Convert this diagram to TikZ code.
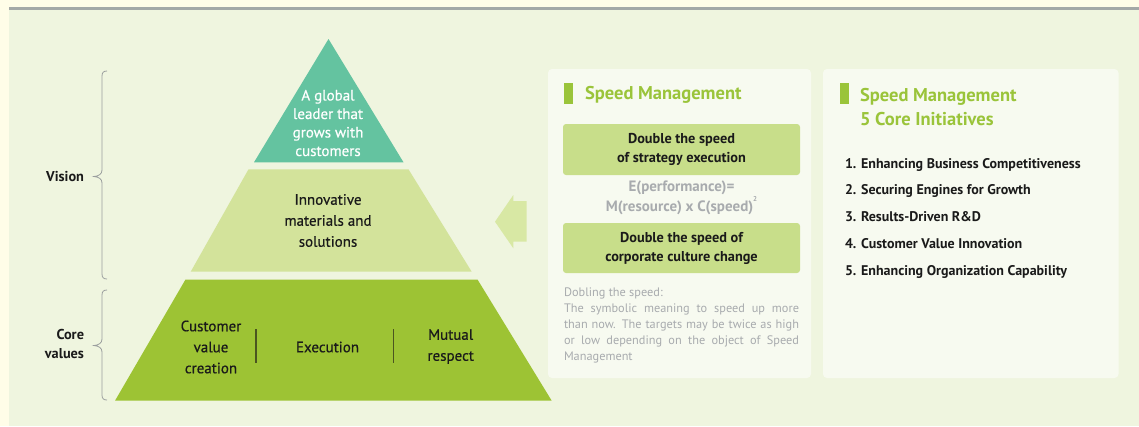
\documentclass[tikz,border=0pt]{standalone}
\usepackage{fontspec}
\setmainfont{PT Sans}
\newfontfamily\medfont[FakeBold=0.5]{PT Sans}
\definecolor{creambg}{HTML}{FFFDE8}
\definecolor{greenbg}{HTML}{EFF5DF}
\definecolor{grayline}{HTML}{A4A9A7}
\definecolor{tealc}{HTML}{64C3A0}
\definecolor{midc}{HTML}{D3E39B}
\definecolor{botc}{HTML}{9DC334}
\definecolor{arrowc}{HTML}{D8E8A4}
\definecolor{panelc}{HTML}{F7FAF0}
\definecolor{boxc}{HTML}{C8DE8A}
\definecolor{titlec}{HTML}{9AC43A}
\definecolor{graytxt}{HTML}{A8ABAE}
\definecolor{bracec}{HTML}{9A9E9E}
\definecolor{divc}{HTML}{4B5520}
\definecolor{darktxt}{HTML}{1A1A1A}
\begin{document}
\begin{tikzpicture}[x=1pt,y=-1pt,
  every node/.style={inner sep=0pt, outer sep=0pt},
  pyrtext/.style={align=center, text=darktxt, font=\medfont\fontsize{15}{21}\selectfont},
  sidelabel/.style={align=right, anchor=east, text=darktxt, font=\bfseries\fontsize{14.3}{18.5}\selectfont},
  boxtext/.style={align=center, text=darktxt, font=\bfseries\fontsize{14.3}{18.5}\selectfont},
  titletext/.style={align=left, anchor=west, text=titlec, font=\bfseries\fontsize{18.5}{23.5}\selectfont},
  bracepath/.style={draw=bracec, line width=0.8pt},
  divline/.style={draw=divc, line width=1.4pt}
]
\useasboundingbox (0,0) rectangle (1139,426);
% backgrounds
\fill[creambg] (0,0) rectangle (1139,426);
\fill[greenbg] (9,7) rectangle (1139,426);
\fill[grayline] (9,7) rectangle (1139,9.5);

% pyramid
\fill[tealc] (328.5,39) -- (403.5,162.3) -- (254,162.3) -- cycle;
\fill[midc] (248.5,169.3) -- (408.5,169.3) -- (471.7,271.7) -- (190.7,271.7) -- cycle;
\fill[botc] (185.5,279.5) -- (477.5,279.5) -- (551.7,400.7) -- (115,400.7) -- cycle;

\node[pyrtext, text=white, font=\medfont\fontsize{15}{18.5}\selectfont] (top) at (328,123) {A global\\leader that\\grows with\\customers};
\node[pyrtext] (mid) at (328,220.5) {Innovative\\materials and\\solutions};
\node[pyrtext] (cvc) at (211,347) {Customer\\value\\creation};
\node[pyrtext] (exe) at (327.5,347) {Execution};
\node[pyrtext] (mut) at (450.7,346.5) {Mutual\\respect};
\draw[divline] (256,329) -- (256,363);
\draw[divline] (393.3,329) -- (393.3,363);

% braces
\draw[bracepath] (107,71) .. controls (103.5,71) and (102,72.5) .. (102,76)
  -- (102,170) .. controls (102,174) and (99,176) .. (94,176.5)
  .. controls (99,177) and (102,179) .. (102,183)
  -- (102,274) .. controls (102,277.5) and (103.5,279) .. (107,279);
\draw[bracepath] (107,290) .. controls (103.5,290) and (102,291.5) .. (102,295)
  -- (102,339) .. controls (102,343) and (99,345) .. (94,345.5)
  .. controls (99,346) and (102,348) .. (102,352)
  -- (102,395) .. controls (102,398.5) and (103.5,400) .. (107,400);
\node[sidelabel] (vision) at (84,177) {Vision};
\node[sidelabel] (core) at (84,344) {Core\\values};

% arrow
\fill[arrowc] (495,221.7) -- (513.3,195) -- (513.3,201) -- (526.7,201) -- (526.7,241.7) -- (513.3,241.7) -- (513.3,248.3) -- cycle;

% panel 1
\fill[panelc, rounded corners=4pt] (548,69) rectangle (811,378);
\fill[titlec] (564,83) rectangle (573,104);
\node[titletext] (t1) at (585,95) {Speed Management};
\fill[boxc, rounded corners=3pt] (563,124) rectangle (800,175);
\node[boxtext] (b1) at (681.5,149.5) {Double the speed\\of strategy execution};
\node[boxtext, text=graytxt, font=\bfseries\fontsize{15}{18.5}\selectfont] (form) at (681.5,198) {E(performance)=\\M(resource) x C(speed)\raisebox{1.4ex}{\fontsize{7}{7}\selectfont 2}};
\fill[boxc, rounded corners=3pt] (563,223) rectangle (800,273);
\node[boxtext] (b2) at (681.5,248.5) {Double the speed of\\corporate culture change};
\node[align=left, anchor=west, text=graytxt, font=\fontsize{12.3}{16.2}\selectfont] (note) at (564,325.5)
  {Dobling the speed:\\
   \makebox[235pt][s]{The symbolic meaning to speed up more}\\
   \makebox[235pt][s]{than now. The targets may be twice as high}\\
   \makebox[235pt][s]{or low depending on the object of Speed}\\
   Management};

% panel 2
\fill[panelc, rounded corners=4pt] (823,69) rectangle (1118.5,378);
\fill[titlec] (840,83) rectangle (849,104);
\node[titletext] (t2) at (860,107) {Speed Management\\5 Core Initiatives};
\node[align=left, anchor=west, text=darktxt, font=\bfseries\fontsize{14}{26.75}\selectfont] (list) at (845,218)
  {1. Enhancing Business Competitiveness\\
   2. Securing Engines for Growth\\
   3. Results-Driven R\&D\\
   4. Customer Value Innovation\\
   5. Enhancing Organization Capability};
\end{tikzpicture}
\end{document}
